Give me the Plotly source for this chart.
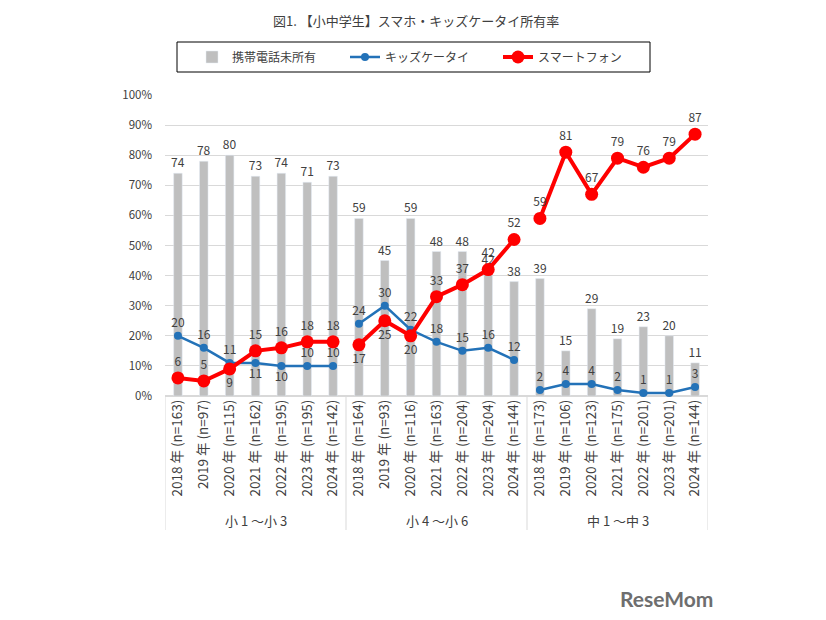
import plotly.graph_objects as go

# ---- data ----
groups = ["小 1 ～小 3", "小 4 ～小 6", "中 1 ～中 3"]
years = ["2018", "2019", "2020", "2021", "2022", "2023", "2024"]
n_values = [
    [163, 97, 115, 162, 195, 195, 142],
    [164, 93, 116, 163, 204, 204, 144],
    [173, 106, 123, 175, 201, 201, 144],
]
no_phone = [74, 78, 80, 73, 74, 71, 73,
            59, 45, 59, 48, 48, 42, 38,
            39, 15, 29, 19, 23, 20, 11]
kids_phone = [20, 16, 11, 11, 10, 10, 10,
              24, 30, 22, 18, 15, 16, 12,
              2, 4, 4, 2, 1, 1, 3]
smartphone = [6, 5, 9, 15, 16, 18, 18,
              17, 25, 20, 33, 37, 42, 52,
              59, 81, 67, 79, 76, 79, 87]
kids_pos = ["top center"] * 3 + ["bottom center"] * 2 + ["top center"] * 2 + ["top center"] * 14
smart_pos = (["top center"] * 2 + ["bottom center"] + ["top center"] * 4
             + ["bottom center"] * 3 + ["top center"] * 4 + ["top center"] * 7)

tick_labels = [f"{y} 年 (n={n})" for g in n_values for y, n in zip(years, g)]
xs = list(range(len(tick_labels)))

FONT = "Noto Sans CJK JP, Noto Sans, sans-serif"
TXT = "#404040"
GRAY = "#bfbfbf"
BLUE = "#2372b8"
RED = "#ff0000"

fig = go.Figure()
fig.add_trace(go.Bar(
    x=xs, y=[v / 100 for v in no_phone], name="携帯電話未所有",
    marker_color=GRAY, width=0.33,
    text=[str(v) for v in no_phone], textposition="outside",
    constraintext="none",
    textfont=dict(size=12, color=TXT), outsidetextfont=dict(size=12, color=TXT),
    cliponaxis=False,
))

for gi in range(3):
    sl = slice(gi * 7, gi * 7 + 7)
    fig.add_trace(go.Scatter(
        x=xs[sl], y=[v / 100 for v in kids_phone[sl]], name="キッズケータイ",
        mode="lines+markers+text", legendgroup="kids", showlegend=(gi == 0),
        line=dict(color=BLUE, width=2.5), marker=dict(color=BLUE, size=8),
        text=[str(v) for v in kids_phone[sl]], textposition=kids_pos[sl],
        textfont=dict(size=12, color=TXT), cliponaxis=False,
    ))
for gi in range(3):
    sl = slice(gi * 7, gi * 7 + 7)
    fig.add_trace(go.Scatter(
        x=xs[sl], y=[v / 100 for v in smartphone[sl]], name="スマートフォン",
        mode="lines+markers+text", legendgroup="smart", showlegend=(gi == 0),
        line=dict(color=RED, width=4), marker=dict(color=RED, size=13),
        text=[str(v) for v in smartphone[sl]], textposition=smart_pos[sl],
        textfont=dict(size=12, color=TXT), cliponaxis=False,
    ))

# page body has an 8px margin, so figure coords = screen coords - 8
OFF = 8
W, H = 826 - OFF, 620 - OFF
L = 165 - OFF
T = 95 - OFF
R = W - (708 - OFF)
B = H - (396 - OFF)
pw, ph = W - L - R, H - T - B

def py(screen_y):
    return (396 - screen_y) / ph

def px(screen_x):
    return (screen_x - 165) / pw

shapes = []
for b in [-0.5, 6.5, 13.5, 20.5]:
    shapes.append(dict(type="line", xref="x", yref="paper", x0=b, x1=b,
                       y0=0, y1=py(530), line=dict(color="#d9d9d9", width=1)))
# legend frame
shapes.append(dict(type="rect", xref="paper", yref="paper",
                   x0=px(177), x1=px(650), y0=py(72), y1=py(42),
                   line=dict(color="#000000", width=1), fillcolor="rgba(0,0,0,0)"))

annotations = []
for gi, g in enumerate(groups):
    annotations.append(dict(x=gi * 7 + 3, xref="x", y=py(520), yref="paper",
                            xanchor="center", yanchor="middle",
                            text=g, showarrow=False, font=dict(size=13, color=TXT, family=FONT)))
annotations.append(dict(x=px(416), xref="paper", y=py(OFF + 1), yref="paper",
                        xanchor="center", yanchor="top",
                        text="図1. 【小中学生】スマホ・キッズケータイ所有率", showarrow=False,
                        font=dict(size=13, color=TXT, family=FONT)))
annotations.append(dict(x=px(666), xref="paper", y=py(598), yref="paper",
                        xanchor="center", yanchor="middle", text="<b>ReseMom</b>",
                        showarrow=False, font=dict(size=21, color="#6e6e6e", family="Lato, sans-serif")))

fig.update_layout(
    width=W, height=H,
    margin=dict(l=L, r=R, t=T, b=B, autoexpand=False),
    paper_bgcolor="white", plot_bgcolor="white",
    font=dict(family=FONT, color=TXT, size=11),
    bargap=0.5,
    showlegend=True,
    legend=dict(orientation="h", x=px(192), y=py(57),
                xanchor="left", yanchor="middle",
                bgcolor="rgba(0,0,0,0)", borderwidth=0,
                entrywidth=108, entrywidthmode="pixels",
                font=dict(size=12, color=TXT, family=FONT)),
    xaxis=dict(range=[-0.5, 20.5], tickmode="array", tickvals=xs, ticktext=tick_labels,
               tickangle=-90, showgrid=False, zeroline=False, showline=False,
               tickfont=dict(size=13.5, color=TXT, family=FONT)),
    yaxis=dict(range=[0, 1.0], tickmode="array", tickvals=[i / 10 for i in range(11)],
               tickformat=".0%", showgrid=True, gridcolor="#d9d9d9", zeroline=True,
               zerolinecolor="#d9d9d9", showline=False, ticklabelstandoff=12,
               tickfont=dict(size=11.5, color=TXT, family=FONT)),
    shapes=shapes, annotations=annotations,
)

fig.write_html("out.html")
